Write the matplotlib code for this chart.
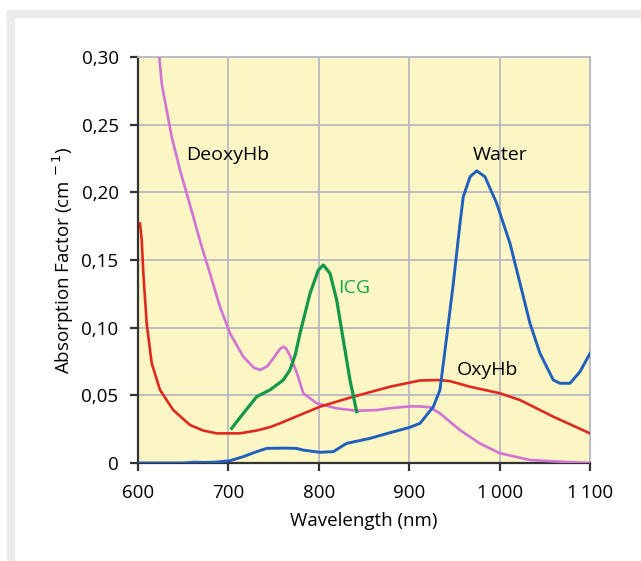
import matplotlib.pyplot as plt
from matplotlib.patches import Rectangle
from matplotlib.ticker import FixedLocator

deoxy_x = [623.6, 626.2, 631.7, 637.3, 646.5, 653.9, 661.2, 669.5, 679.6, 690.7, 701.8, 716.5, 728, 735,
           743, 751, 757, 760.7, 764, 768, 775, 782.9, 797.7, 819.8, 841.9, 864, 878.8, 900, 912, 923, 934,
           956, 978, 1000.4, 1033.6, 1066.8, 1100]
deoxy_y = [0.300, 0.2804, 0.2607, 0.2410, 0.2164, 0.1991, 0.1819, 0.162, 0.1401, 0.1154, 0.0958,
           0.0785, 0.0705, 0.0687, 0.0715, 0.0785, 0.0842, 0.0859, 0.0845, 0.0795, 0.068, 0.0515,
           0.0441, 0.0404, 0.0386, 0.0391, 0.0405, 0.0418, 0.0418, 0.0412, 0.0367, 0.0244, 0.0145,
           0.0072, 0.0022, 0.001, 0.0]

oxy_x = [602.2, 604.1, 605.9, 609.6, 615.2, 624.3, 639, 657.5, 672, 687, 712.8, 731.3, 746, 757,
         779.2, 801.3, 838.2, 879, 912, 934, 945, 967, 1000.4, 1022.6, 1059.4, 1100]
oxy_y = [0.177, 0.1647, 0.1401, 0.1032, 0.0736, 0.054, 0.0391, 0.0281, 0.0240, 0.0219, 0.0219,
         0.0240, 0.0265, 0.0293, 0.0355, 0.0416, 0.049, 0.0564, 0.0610, 0.0613, 0.0605, 0.0564,
         0.0515, 0.0465, 0.0342, 0.0219]

water_x = [600, 650, 662, 672, 685, 701.8, 716.5, 731.3, 742.4, 760, 775.5, 782.9, 801.3, 816,
           830.8, 856.6, 878.8, 900, 912, 926.7, 934, 941.5, 948.8, 956.2, 959.8, 967.3, 974.7,
           983.8, 996.8, 1011.5, 1022.6, 1033.6, 1044.7, 1059.4, 1066.8, 1077.9, 1089, 1100]
water_y = [0.0, 0.0, 0.0006, 0.0004, 0.0006, 0.0017, 0.0047, 0.0084, 0.0108, 0.0110, 0.0108,
           0.0095, 0.0079, 0.0084, 0.0145, 0.0182, 0.0224, 0.0262, 0.0293, 0.0416, 0.0539, 0.0933,
           0.1327, 0.177, 0.1967, 0.2115, 0.2159, 0.2115, 0.1918, 0.1623, 0.1327, 0.1032, 0.081,
           0.0613, 0.0589, 0.0589, 0.0675, 0.081]

icg_x = [703.6, 716.5, 731.3, 746, 760.7, 768, 774, 779.2, 790.3, 799.5, 805, 812.4, 819.8, 827.1,
         834.5, 841.9]
icg_y = [0.0256, 0.0367, 0.049, 0.054, 0.0613, 0.0687, 0.080, 0.0958, 0.1253, 0.1426, 0.1463,
         0.1401, 0.1204, 0.0909, 0.0613, 0.0379]

xticks = [600, 700, 800, 900, 1000, 1100]
xlabels = ['600', '700', '800', '900', '1\u2009000', '1\u2009100']
yticks = [0, 0.05, 0.10, 0.15, 0.20, 0.25, 0.30]
ylabels = ['0', '0,05', '0,10', '0,15', '0,20', '0,25', '0,30']

plt.rcParams['font.family'] = ['Open Sans', 'DejaVu Sans']

fig = plt.figure(figsize=(6.41, 5.61), dpi=100)
# grey frame bands
fig.patches.append(Rectangle((7 / 641, 1 - 17 / 561), 1, 7 / 561, transform=fig.transFigure,
                             color='#ebebeb', zorder=0))
fig.patches.append(Rectangle((7 / 641, 0), 7 / 641, 1 - 10 / 561, transform=fig.transFigure,
                             color='#ebebeb', zorder=0))

ax = fig.add_axes([138 / 641, 1 - 463 / 561, 452 / 641, 406 / 561])
ax.set_facecolor('#fcf6c4')

ax.plot(deoxy_x, deoxy_y, color='#d173d6', lw=1.9, zorder=3)
ax.plot(oxy_x, oxy_y, color='#e0291e', lw=1.9, zorder=3)
ax.plot(water_x, water_y, color='#1f5fbd', lw=2.1, zorder=4)
ax.plot(icg_x, icg_y, color='#13984a', lw=2.3, zorder=5)

ax.text(653, 0.2275, 'DeoxyHb', fontsize=14, va='center', ha='left')
ax.text(1000, 0.2275, 'Water', fontsize=14, va='center', ha='center')
ax.text(821, 0.129, 'ICG', fontsize=14, va='center', ha='left', color='#13a84a')
ax.text(953, 0.0687, 'OxyHb', fontsize=14, va='center', ha='left')

ax.set_xlim(600, 1100)
ax.set_ylim(0, 0.30)
ax.xaxis.set_major_locator(FixedLocator(xticks))
ax.yaxis.set_major_locator(FixedLocator(yticks))
ax.set_xticklabels(xlabels, fontsize=13.5)
ax.set_yticklabels(ylabels, fontsize=13.5)
ax.grid(color='#b9b9c6', lw=1.3, zorder=1)
ax.set_axisbelow(True)

for side in ['top', 'right']:
    ax.spines[side].set_color('#b9b9c6')
    ax.spines[side].set_linewidth(1.3)
for side in ['left', 'bottom']:
    ax.spines[side].set_color('#333333')
    ax.spines[side].set_linewidth(1.6)
ax.tick_params(direction='out', length=6, width=1.6, color='#333333')
ax.tick_params(axis='x', pad=9)
ax.tick_params(axis='y', pad=8)

ax.set_xlabel('Wavelength (nm)', fontsize=13.5, labelpad=7)
ax.set_ylabel('Absorption Factor (cm$^{\\,-1}$)', fontsize=13.5, labelpad=4)

plt.savefig('out.png', dpi=100)
